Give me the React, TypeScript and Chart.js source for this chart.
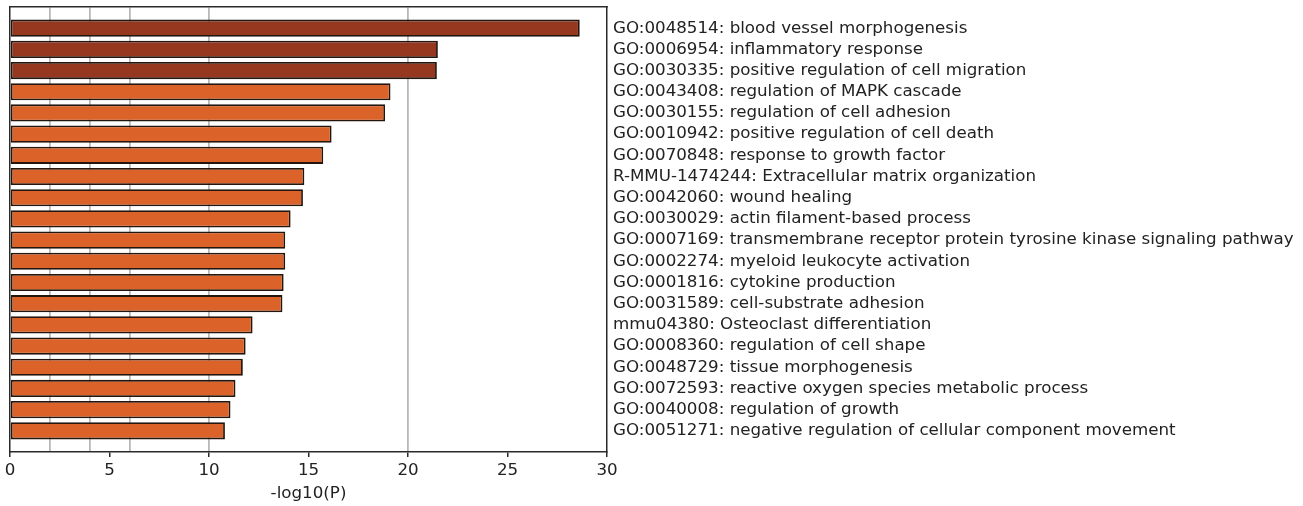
import React, { useEffect, useRef } from "react";
import { Chart, registerables } from "chart.js";

Chart.register(...registerables);

const terms: string[] = [
  "GO:0048514: blood vessel morphogenesis",
  "GO:0006954: inflammatory response",
  "GO:0030335: positive regulation of cell migration",
  "GO:0043408: regulation of MAPK cascade",
  "GO:0030155: regulation of cell adhesion",
  "GO:0010942: positive regulation of cell death",
  "GO:0070848: response to growth factor",
  "R-MMU-1474244: Extracellular matrix organization",
  "GO:0042060: wound healing",
  "GO:0030029: actin filament-based process",
  "GO:0007169: transmembrane receptor protein tyrosine kinase signaling pathway",
  "GO:0002274: myeloid leukocyte activation",
  "GO:0001816: cytokine production",
  "GO:0031589: cell-substrate adhesion",
  "mmu04380: Osteoclast differentiation",
  "GO:0008360: regulation of cell shape",
  "GO:0048729: tissue morphogenesis",
  "GO:0072593: reactive oxygen species metabolic process",
  "GO:0040008: regulation of growth",
  "GO:0051271: negative regulation of cellular component movement",
];

const negLog10P: number[] = [
  28.63, 21.5, 21.45, 19.12, 18.85, 16.16, 15.74, 14.79, 14.72, 14.1,
  13.83, 13.83, 13.75, 13.69, 12.19, 11.84, 11.7, 11.33, 11.08, 10.8,
];

const topGroup: boolean[] = negLog10P.map((_, i) => i < 3);

const xTicks: number[] = [0, 5, 10, 15, 20, 25, 30];
const gridValues: number[] = [2, 4, 6, 10, 20];
const xTitle = "-log10(P)";

const DARK = "#963720";
const ORANGE = "#DB6229";
const FONT = "'DejaVu Sans', sans-serif";
const FSIZE = 16.7;
const AXIS = "#2a2a2a";

export default function App() {
  const ref = useRef<HTMLCanvasElement | null>(null);

  useEffect(() => {
    document.body.style.margin = "0";
    const canvas = ref.current;
    if (!canvas) return;
    const noPad = (s: any) => {
      s.paddingTop = 0;
      s.paddingBottom = 0;
      s.paddingLeft = 0;
      s.paddingRight = 0;
    };
    const chart = new Chart(canvas, {
      type: "bar",
      data: {
        datasets: [
          {
            data: negLog10P.map((v, i) => ({ x: v, y: i })),
            backgroundColor: topGroup.map((t) => (t ? DARK : ORANGE)),
            borderColor: "#22160f",
            borderWidth: 1.8,
            borderSkipped: false,
            barPercentage: 0.81,
            categoryPercentage: 1,
            xAxisID: "x",
            yAxisID: "y",
          } as any,
        ],
      },
      options: {
        indexAxis: "y",
        animation: false,
        responsive: false,
        maintainAspectRatio: false,
        layout: { padding: { left: 10, top: 7, right: 0, bottom: 0 } },
        plugins: { legend: { display: false }, tooltip: { enabled: false } },
        scales: {
          x: {
            type: "linear",
            position: "bottom",
            min: 0,
            max: 30,
            offset: false,
            afterBuildTicks: (s: any) => {
              s.ticks = xTicks.map((value) => ({ value }));
            },
            afterFit: (s: any) => {
              s.height = 54;
              s.paddingLeft = 0;
              s.paddingRight = 0;
            },
            grid: {
              offset: false,
              drawOnChartArea: false,
              drawTicks: true,
              tickLength: 5,
              color: AXIS,
              lineWidth: 1.5,
            },
            border: { display: true, color: AXIS, width: 1.5 },
            ticks: {
              color: "#222",
              padding: 4,
              font: { family: FONT, size: FSIZE },
            },
            title: {
              display: true,
              text: xTitle,
              color: "#222",
              font: { family: FONT, size: FSIZE },
              padding: { top: 0, bottom: 2 },
            },
          },
          x2: {
            type: "linear",
            position: "top",
            min: 0,
            max: 30,
            offset: false,
            afterBuildTicks: (s: any) => {
              s.ticks = gridValues.map((value) => ({ value }));
            },
            afterFit: (s: any) => {
              s.height = 0;
              noPad(s);
            },
            grid: {
              display: true,
              offset: false,
              drawOnChartArea: true,
              drawTicks: false,
              color: "#b8b8b8",
              lineWidth: 1.8,
            },
            border: { display: true, color: AXIS, width: 1.5 },
            ticks: { display: false },
          },
          y: {
            type: "linear",
            position: "right",
            reverse: true,
            offset: false,
            min: -1,
            max: 20,
            afterBuildTicks: (s: any) => {
              s.ticks = terms.map((_, i) => ({ value: i }));
            },
            afterFit: (s: any) => {
              s.width = 696;
              noPad(s);
            },
            grid: { offset: false, drawOnChartArea: false, drawTicks: false },
            border: { display: true, color: AXIS, width: 1.5 },
            ticks: {
              color: "#222",
              padding: 6,
              autoSkip: false,
              font: { family: FONT, size: FSIZE },
              callback: (v: any) => terms[v as number] ?? "",
            },
          },
          yL: {
            type: "linear",
            position: "left",
            reverse: true,
            offset: false,
            min: -1,
            max: 20,
            afterFit: (s: any) => {
              s.width = 0;
              noPad(s);
            },
            grid: { display: false, offset: false },
            border: { display: true, color: AXIS, width: 1.5 },
            ticks: { display: false },
          },
        },
      },
    });
    return () => chart.destroy();
  }, []);

  return (
    <div style={{ width: 1303, height: 506 }}>
      <canvas ref={ref} width={1303} height={506} />
    </div>
  );
}
